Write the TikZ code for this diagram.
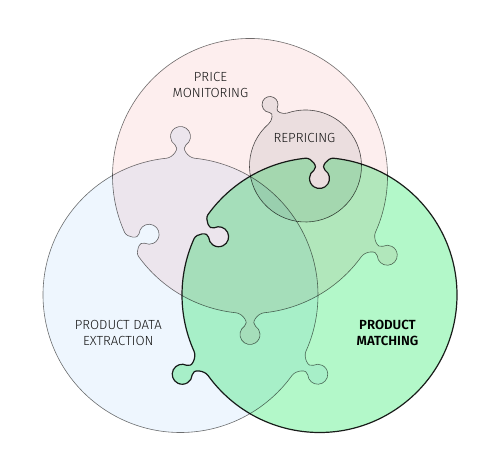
\documentclass[tikz,border=0pt]{standalone}
\usepackage{fontspec}
\usetikzlibrary{calc}
\newfontfamily\lightlabel{Fira Sans Light}
\newfontfamily\boldlabel{Fira Sans SemiBold}

\definecolor{pricepink}{RGB}{253,238,238}
\definecolor{extractblue}{RGB}{238,246,254}
\definecolor{matchgreen}{RGB}{179,248,201}
\definecolor{repricegrey}{RGB}{237,238,239}
\definecolor{edgegrey}{RGB}{112,112,112}
\definecolor{repedge}{RGB}{80,80,80}
\definecolor{matchedge}{RGB}{30,30,30}
\definecolor{labelgrey}{RGB}{20,20,20}

\newcommand{\pieceR}{137.5}
\newcommand{\knobr}{10}
\newcommand{\knobd}{21}
\newcommand{\knoba}{5.8}
\newcommand{\knobg}{33.4}

% #1 centre, #2 angle, #3 1 = tab / -1 = blank, #4 angle of the next one
\newcommand{\knobpath}[4]{%
  to[out={#2-\knoba+90}, in={#2+90+(#3)*\knobg}]
  ($(#1)+(#2:{\pieceR+(#3)*\knobd})+({#2+(#3)*\knobg-90-90*(#3)}:\knobr)$)
  arc[start angle={#2+(#3)*\knobg-90-90*(#3)}, end angle={#2-(#3)*\knobg+270*(#3)-90}, radius=\knobr]
  to[out={#2-90-(#3)*\knobg}, in={#2+\knoba-90}]
  ($(#1)+({#2+\knoba}:\pieceR)$)
  arc[start angle={#2+\knoba}, end angle={#4-\knoba}, radius=\pieceR]}

\begin{document}
\begin{tikzpicture}[x=1pt, y=1pt,
  piece/.style={draw=edgegrey, line width=0.6pt, blend mode=multiply},
  lbl/.style={font=\lightlabel\fontsize{13.2}{16}\selectfont, text=labelgrey, align=center, inner sep=0pt}]

\useasboundingbox (0,0) rectangle (501,472);

\coordinate (pm) at (250,296);
\coordinate (de) at (180.5,177);
\coordinate (mt) at (319.5,177);
\coordinate (rp) at (305.5,306);

\draw[piece, fill=pricepink] ($(pm)+({210-\knoba}:\pieceR)$)
  \knobpath{pm}{210}{-1}{270} \knobpath{pm}{270}{1}{330} \knobpath{pm}{330}{1}{570} -- cycle;

\draw[piece, fill=extractblue] ($(de)+({90-\knoba}:\pieceR)$)
  \knobpath{de}{90}{1}{330} \knobpath{de}{330}{1}{450} -- cycle;

\renewcommand{\pieceR}{56}
\renewcommand{\knobr}{8}
\renewcommand{\knobd}{15}
\renewcommand{\knoba}{11}
\draw[piece, draw=repedge, fill=repricegrey] ($(rp)+({120-\knoba}:\pieceR)$)
  \knobpath{rp}{120}{1}{480} -- cycle;

\renewcommand{\pieceR}{137.5}
\renewcommand{\knobr}{10}
\renewcommand{\knobd}{21}
\renewcommand{\knoba}{5.8}
\draw[piece, draw=matchedge, line width=1.2pt, fill=matchgreen] ($(mt)+({90-\knoba}:\pieceR)$)
  \knobpath{mt}{90}{-1}{150} \knobpath{mt}{150}{-1}{210} \knobpath{mt}{210}{1}{450} -- cycle;

\node[lbl] (pricelbl) at (210.5,387) {PRICE\\MONITORING};
\node[lbl] (replbl) at (304.5,333.7) {REPRICING};
\node[lbl] (extractlbl) at (118.3,139) {PRODUCT DATA\\EXTRACTION};
\node[lbl, font=\boldlabel\fontsize{13.2}{16}\selectfont, text=black] (matchlbl) at (387.5,139.5) {PRODUCT\\MATCHING};

\end{tikzpicture}
\end{document}
